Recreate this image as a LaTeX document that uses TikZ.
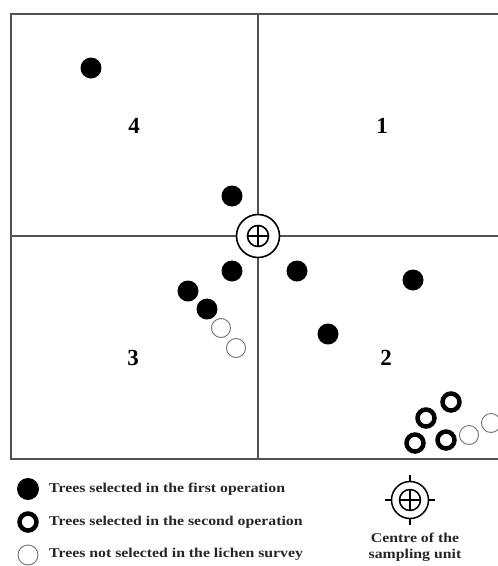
\documentclass[tikz,border=0pt]{standalone}
\usepackage{fontspec}
\usepackage{graphicx}
\setmainfont{Liberation Serif}
\tikzset{
  frameline/.style={draw=black!68, line width=2.6pt},
  firsttree/.style={circle, fill=black, minimum size=21pt, inner sep=0pt},
  secondtree/.style={circle, draw=black, line width=4.5pt, fill=white, minimum size=17pt, inner sep=0pt},
  othertree/.style={circle, draw=black!55, line width=0.9pt, fill=white, minimum size=19pt, inner sep=0pt},
  zonelabel/.style={font=\fontsize{23}{23}\selectfont\bfseries, inner sep=0pt},
  legtext/.style={font=\fontsize{13.5}{14}\selectfont\bfseries, inner sep=0pt, anchor=west, text=black!85},
  centtext/.style={font=\fontsize{13.5}{15.5}\selectfont\bfseries, inner sep=0pt, align=center, text=black!85}
}
\newcommand{\wide}[1]{\scalebox{1.17}[1]{#1}}
\begin{document}
\begin{tikzpicture}[x=1pt,y=-1pt]
\useasboundingbox (0,0) rectangle (498,566);
\fill[white] (0,0) rectangle (498,566);
% frame
\coordinate (tl) at (11,14);
\coordinate (tr) at (498,14);
\coordinate (bl) at (11,459);
\coordinate (br) at (498,459);
\coordinate (vt) at (258,14);
\coordinate (vb) at (258,459);
\coordinate (hl) at (11,236);
\coordinate (hr) at (498,236);
\draw[frameline] (tr) -- (tl) -- (bl) -- (br);
\draw[frameline] (vt) -- (vb);
\draw[frameline] (hl) -- (hr);
% centre symbol
\node[circle, draw=black, fill=white, line width=1.6pt, minimum size=43pt, inner sep=0pt] (centre) at (258,236) {};
\node[circle, draw=black, line width=1.6pt, minimum size=21pt, inner sep=0pt] (centrein) at (258,236) {};
\draw[line width=1.6pt] (centrein.north) -- (centrein.south) (centrein.west) -- (centrein.east);
% zone labels
\node[zonelabel] (z4) at (134,126) {4};
\node[zonelabel] (z1) at (382,126) {1};
\node[zonelabel] (z3) at (133,358) {3};
\node[zonelabel] (z2) at (386,358) {2};
% first operation trees
\node[firsttree] (f1) at (91,68) {};
\node[firsttree] (f2) at (232,196) {};
\node[firsttree] (f3) at (232,271) {};
\node[firsttree] (f4) at (188,291) {};
\node[firsttree] (f5) at (207,309) {};
\node[firsttree] (f6) at (297,271) {};
\node[firsttree] (f7) at (413,280) {};
\node[firsttree] (f8) at (328,334) {};
% not selected
\node[othertree] (o1) at (221,328) {};
\node[othertree] (o2) at (236,348) {};
\node[othertree] (o3) at (469,435) {};
\begin{scope}
\clip (0,0) rectangle (498,566);
\node[othertree] (o4) at (491,423) {};
\end{scope}
% second operation
\node[secondtree] (s1) at (451,402) {};
\node[secondtree] (s2) at (426,418) {};
\node[secondtree] (s3) at (415,443) {};
\node[secondtree] (s4) at (446,440) {};
% legend
\node[firsttree, minimum size=22pt] (lf) at (28,489) {};
\node[secondtree] (ls) at (28,522) {};
\node[othertree, minimum size=20pt] (lo) at (28,555) {};
\node[legtext] (tf) at (49,489) {\wide{Trees selected in the first operation}};
\node[legtext] (ts) at (49,522) {\wide{Trees selected in the second operation}};
\node[legtext] (to) at (49,554) {\wide{Trees not selected in the lichen survey}};
% legend centre symbol
\node[circle, draw=black, line width=1.5pt, minimum size=37pt, inner sep=0pt] (lc) at (410,500) {};
\node[circle, draw=black, line width=1.5pt, minimum size=21pt, inner sep=0pt] (lci) at (410,500) {};
\draw[line width=1.5pt] (lci.north) -- (lci.south) (lci.west) -- (lci.east);
\draw[line width=1.3pt] (lc.north) -- ++(0,-6) (lc.south) -- ++(0,6) (lc.west) -- ++(-6,0) (lc.east) -- ++(6,0);
\node[centtext] (ct) at (415,547) {\wide{Centre of the}\\\wide{sampling unit}};
\end{tikzpicture}
\end{document}
